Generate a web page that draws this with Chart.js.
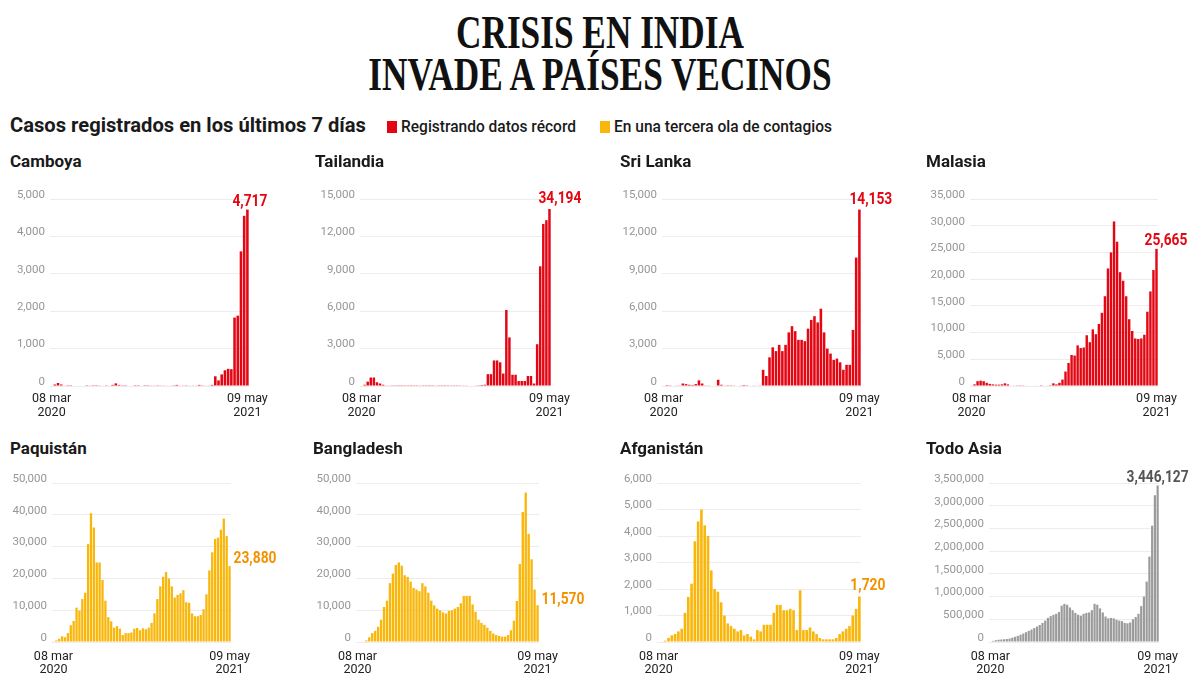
<!DOCTYPE html>
<html><head><meta charset="utf-8">
<script src="https://cdn.jsdelivr.net/npm/chart.js@4"></script>
<style>
html,body{margin:0;padding:0;background:#fff;}
body{width:1200px;height:675px;overflow:hidden;position:relative;font-family:Roboto,'Open Sans',sans-serif;color:#1a1a1a;}
.title{position:absolute;left:0;width:1200px;text-align:center;font-family:'Liberation Serif','DejaVu Serif',serif;font-weight:bold;color:#111;font-size:47px;line-height:47px;white-space:nowrap;}
.title span{display:inline-block;transform:scaleX(0.75);transform-origin:center;}
.sub{position:absolute;white-space:nowrap;transform-origin:left center;}
.sq{position:absolute;width:10px;height:12px;}
.ptitle{position:absolute;font-weight:bold;font-size:17px;line-height:18px;white-space:nowrap;}
canvas{position:absolute;}
</style></head>
<body>
<div class="title" style="top:9px"><span>CRISIS EN INDIA</span></div>
<div class="title" style="top:51px"><span>INVADE A PAÍSES VECINOS</span></div>
<div class="sub" style="left:10px;top:113px;font-size:21px;font-weight:bold;transform:scaleX(0.96)">Casos registrados en los últimos 7 días</div>
<div class="sq" style="left:387px;top:121px;background:#e30613"></div>
<div class="sub" style="left:401px;top:117px;font-size:16px;font-weight:500;transform:scaleX(0.97)">Registrando datos récord</div>
<div class="sq" style="left:600px;top:121px;background:#f9b70c"></div>
<div class="sub" style="left:614px;top:117px;font-size:16px;font-weight:500;transform:scaleX(0.97)">En una tercera ola de contagios</div>
<div id="wrap"></div>
<script>
// ---- DATA ----
const countries = ['Camboya','Tailandia','Sri Lanka','Malasia','Paquistán','Bangladesh','Afganistán','Todo Asia'];
const xTickFirst = ['08 mar','2020'];
const xTickLast = ['09 may','2021'];
const lastLabels = ['4,717','34,194','14,153','25,665','23,880','11,570','1,720','3,446,127'];
const yMax = [5000,15000,15000,35000,50000,50000,6000,3500000];
const yStep = [1000,3000,3000,5000,10000,10000,1000,500000];

const camboya = [0,40,80,40,15,5,5,0,0,0,0,5,10,5,5,10,15,20,15,30,70,30,20,5,0,0,5,5,0,5,5,10,10,20,10,10,15,15,20,30,10,10,20,15,10,10,30,20,15,10,30,260,150,310,420,460,450,1830,1880,3600,4550,4717];
const tailandia = [0,100,350,680,680,300,200,100,50,30,20,20,15,15,20,20,15,20,20,25,20,20,15,20,30,20,20,15,20,25,20,20,25,30,30,40,40,50,60,80,100,950,950,2050,2050,1900,1000,6100,3900,900,900,400,400,400,800,800,200,3350,9600,13000,13300,14200];
const sriLanka = [0,10,20,40,30,30,200,150,100,80,150,450,200,30,30,40,40,500,100,30,20,20,30,40,50,80,60,40,30,40,50,1300,800,2300,3100,2800,3300,2800,3300,4300,4800,4400,3700,3700,3600,4600,5300,5600,5100,6200,4300,3000,2600,2100,2200,1900,1300,1700,1700,4500,10300,14153];
const malasia = [100,300,900,1000,900,600,400,300,250,250,300,500,300,100,80,60,50,60,80,100,100,80,100,150,100,80,150,500,300,600,1200,2700,4300,5800,5700,7600,7100,7200,9500,8200,10600,9700,11600,13700,16800,22000,25000,30800,27000,21300,19700,16800,12500,10300,8900,8800,8900,9600,13900,17700,21700,25665];
const paquistan = [100,500,1000,1800,1500,2800,5300,6600,10800,9900,13500,15500,30800,40500,36000,25000,25000,19500,13000,7800,6500,4500,5000,4200,2200,2800,2800,3000,4200,4400,3700,4300,4000,4500,6000,9000,13500,17500,20500,22000,20000,17500,14000,14800,15300,16300,12500,12300,9000,8100,8100,8500,10300,15000,22500,28200,32400,32800,35300,38800,33300,23880];
const bangladesh = [0,0,0,500,1500,2800,3500,4800,7000,11000,13000,18500,21500,24200,25000,24000,21000,20500,19000,17000,16500,16000,18500,17500,15500,13000,11500,10500,10000,9300,9000,9800,10000,10500,11000,12200,14500,14500,14500,11800,9500,7000,6000,5400,4500,3500,2700,2200,1900,1700,1700,2200,3700,6700,12900,24500,40900,47000,34000,26000,16500,11570];
const afganistan = [0,20,50,150,250,300,400,500,1100,1700,2200,3800,4550,5000,4400,4000,2700,2000,1900,1500,1000,700,600,500,400,450,250,300,200,100,450,400,650,650,650,1100,1400,1400,1200,1200,1250,1200,450,1950,450,450,550,400,300,150,100,100,100,100,150,300,400,500,600,1000,1250,1720];
const todoAsia = [10000,25000,40000,50000,55000,60000,65000,75000,95000,115000,135000,160000,185000,215000,245000,275000,305000,340000,375000,420000,470000,530000,570000,600000,620000,660000,800000,840000,820000,760000,700000,640000,600000,580000,620000,640000,650000,700000,840000,820000,740000,650000,560000,520000,530000,520000,490000,470000,460000,420000,410000,430000,500000,550000,620000,790000,1000000,1330000,1880000,2560000,3230000,3446127];

const series = [camboya,tailandia,sriLanka,malasia,paquistan,bangladesh,afganistan,todoAsia];
const weeks = camboya.map((_, i) => 'w' + i);

// ---- STYLE / LAYOUT ----
const RED='#e30613', YEL='#f9b70c', GREY='#9b9b9b';
const barColors = [RED,RED,RED,RED,YEL,YEL,YEL,GREY];
const labelColors = [RED,RED,RED,RED,'#f39200','#f39200','#f39200','#555555'];
const TOP = {top:170, padTop:29, h:254, xH:38, xPad:6, lh:1.1};
const BOT = {top:455, padTop:28, h:220, xH:33, xPad:9, lh:1.0};
const panels = [
 {x:10, plotL:50, plotR:249, row:TOP, lab:{align:'left',dx:-15,dy:-4}},
 {x:315,plotL:360,plotR:551, row:TOP, lab:{align:'left',dx:-11,dy:-6}},
 {x:620,plotL:662,plotR:861, row:TOP, lab:{align:'left',dx:-10,dy:-6}},
 {x:926,plotL:970,plotR:1158,row:TOP, lab:{align:'left',dx:-12,dy:-4}},
 {x:8,  plotL:52, plotR:231, row:BOT, lab:{align:'left',dx:4,dy:-3}},
 {x:313,plotL:356,plotR:539, row:BOT, lab:{align:'left',dx:4,dy:-1}},
 {x:620,plotL:657,plotR:861, row:BOT, lab:{align:'left',dx:-9,dy:-6}},
 {x:926,plotL:989,plotR:1159,row:BOT, lab:{align:'center',dx:0,dy:-3}}
];
const titleTops = [152,152,152,152,439,439,439,439];
const CW = 310;

const valueLabel = {
  id:'valueLabel',
  afterDatasetsDraw(chart, args, opts){
    const meta = chart.getDatasetMeta(0);
    const el = meta.data[meta.data.length-1];
    const ctx = chart.ctx;
    const sx = 0.86;
    ctx.save();
    ctx.font = 'bold 16px Roboto, sans-serif';
    ctx.fillStyle = opts.color;
    ctx.textBaseline = 'alphabetic';
    const w = ctx.measureText(opts.text).width * sx;
    let left = el.x + opts.dx;
    if (opts.align === 'center') left = el.x + opts.dx - w/2;
    ctx.translate(left, el.y + opts.dy);
    ctx.scale(sx, 1);
    ctx.textAlign = 'left';
    ctx.fillText(opts.text, 0, 0);
    ctx.restore();
  }
};

const wrap = document.getElementById('wrap');
series.forEach((data, k) => {
  const p = panels[k];
  const r = p.row;
  const t = document.createElement('div');
  t.className = 'ptitle';
  t.style.left = (k%4===0 ? 10 : p.x) + 'px';
  t.style.top = titleTops[k] + 'px';
  t.textContent = countries[k];
  wrap.appendChild(t);

  const c = document.createElement('canvas');
  c.width = CW; c.height = r.h;
  c.style.left = p.x + 'px'; c.style.top = r.top + 'px';
  wrap.appendChild(c);
  const yW = p.plotL - p.x;
  const padR = CW - (p.plotR - p.x);
  const n = data.length;
  new Chart(c, {
    type:'bar',
    data:{labels:weeks, datasets:[{data:data, backgroundColor:barColors[k], borderWidth:0, barPercentage:0.8, categoryPercentage:1}]},
    plugins:[valueLabel],
    options:{
      responsive:false, animation:false, devicePixelRatio:1,
      layout:{padding:{top:r.padTop,right:padR,left:0,bottom:0}},
      plugins:{legend:{display:false}, tooltip:{enabled:false},
        valueLabel:{text:lastLabels[k], color:labelColors[k], align:p.lab.align, dx:p.lab.dx, dy:p.lab.dy}},
      scales:{
        x:{grid:{display:false, drawTicks:false}, border:{display:false},
           afterFit(s){ s.height = r.xH; },
           ticks:{autoSkip:false, maxRotation:0, minRotation:0, padding:r.xPad, color:'#222',
             font:{family:'Roboto, sans-serif', size:12.5, lineHeight:r.lh},
             callback:(v,i)=> i===0 ? xTickFirst : (i===n-1 ? xTickLast : '')}},
        y:{min:0, max:yMax[k], grid:{color:'#ededed', lineWidth:1, drawTicks:false}, border:{display:false},
           afterFit(s){ s.width = yW; },
           ticks:{stepSize:yStep[k], padding:5, color:'#969696', labelOffset:-4,
             font:{family:'Roboto, sans-serif', size:11.5},
             callback:(v)=> Number(v).toLocaleString('en-US')}}
      }
    }
  });
});
</script>
</body></html>
